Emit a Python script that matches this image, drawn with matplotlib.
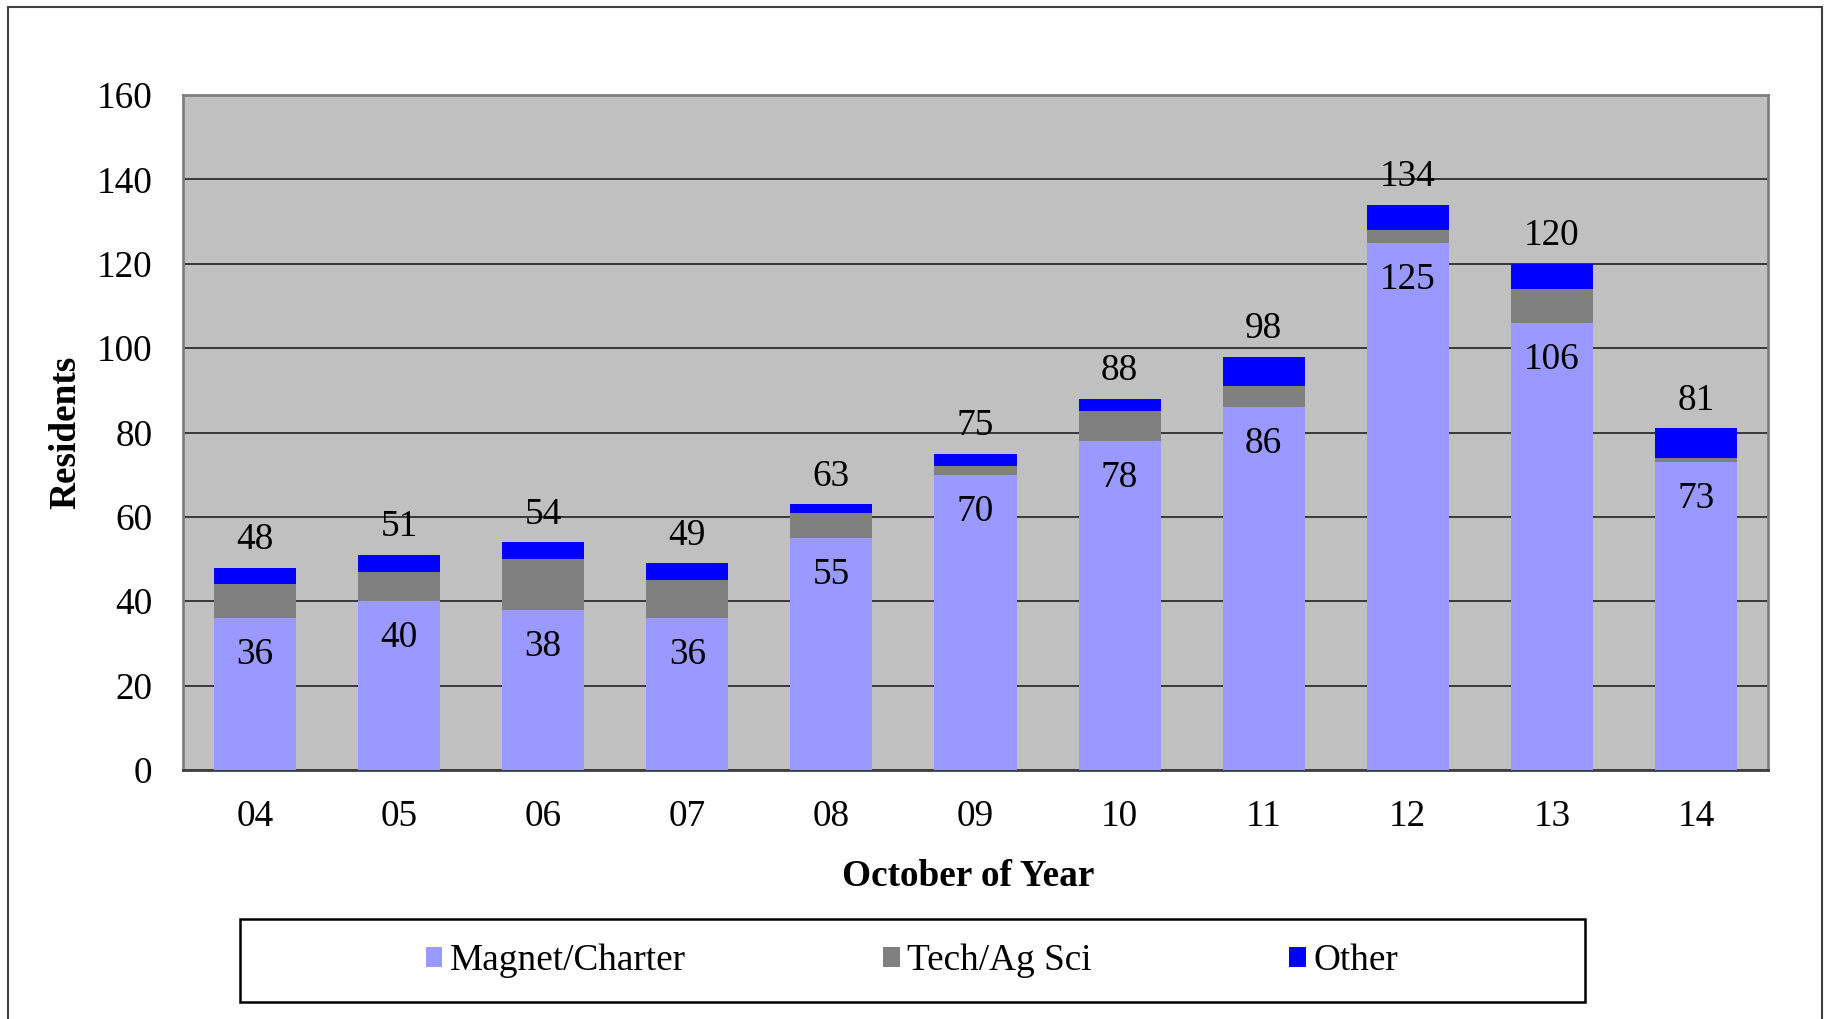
import matplotlib
matplotlib.use("Agg")
import matplotlib.pyplot as plt
from matplotlib.patches import Rectangle, Patch
import numpy as np

years = ["04", "05", "06", "07", "08", "09", "10", "11", "12", "13", "14"]
magnet = [36, 40, 38, 36, 55, 70, 78, 86, 125, 106, 73]
tech = [8, 7, 12, 9, 6, 2, 7, 5, 3, 8, 1]
other = [4, 4, 4, 4, 2, 3, 3, 7, 6, 6, 7]
totals = [48, 51, 54, 49, 63, 75, 88, 98, 134, 120, 81]
series_names = ["Magnet/Charter", "Tech/Ag Sci", "Other"]
colors = ["#9999FF", "#808080", "#0000FF"]

plt.rcParams['font.family'] = ['Liberation Serif', 'DejaVu Serif']
FS = 26.8

W, H = 1831, 1019
fig = plt.figure(figsize=(W / 100, H / 100), dpi=100)
ax = fig.add_axes([183 / W, 1 - 770 / H, (1768 - 183) / W, (770 - 95) / H])
ax.set_facecolor("#C0C0C0")

x = np.arange(len(years))
bw = 0.57
m = np.array(magnet)
t = np.array(tech)
o = np.array(other)
ax.bar(x, m, bw, color=colors[0], zorder=3)
ax.bar(x, t, bw, bottom=m, color=colors[1], zorder=3)
ax.bar(x, o, bw, bottom=m + t, color=colors[2], zorder=3)

for i in range(len(years)):
    ax.annotate(str(magnet[i]), (x[i], magnet[i]), xytext=(0, -26.5), textcoords="offset points",
                ha="center", va="center", fontsize=FS, zorder=5)
    ax.annotate(str(totals[i]), (x[i], totals[i]), xytext=(0, 20), textcoords="offset points",
                ha="center", va="center", fontsize=FS, zorder=5)

ax.set_xlim(-0.5, len(years) - 0.5)
ax.set_ylim(0, 160)
ax.set_yticks(range(0, 161, 20))
ax.set_xticks(x)
ax.set_xticklabels(years)
ax.tick_params(axis="both", labelsize=FS, length=0)
ax.tick_params(axis="x", pad=21)
ax.tick_params(axis="y", pad=22)
ax.yaxis.grid(True, color="#222222", linewidth=1.2, zorder=1)
ax.set_axisbelow(True)
for s in ax.spines.values():
    s.set_color("#808080")
    s.set_linewidth(2)
ax.spines["bottom"].set_color("#404040")

fig.text(66 / W, 0.5 * ((1 - 770 / H) + (1 - 95 / H)), "Residents", fontsize=FS, fontweight="bold",
         rotation=90, ha="center", va="center")
fig.text(968 / W, 1 - 876 / H, "October of Year", fontsize=FS, fontweight="bold", ha="center", va="center")

# legend box
fig.patches.append(Rectangle((240 / W, 1 - 1002 / H), (1585 - 240) / W, (1002 - 919) / H,
                             transform=fig.transFigure, fill=False, edgecolor="black", linewidth=1.8))
handles = [Patch(facecolor=c, edgecolor="none") for c in colors]
fig.legend(handles, series_names, loc="center", bbox_to_anchor=(912 / W, 1 - 961 / H), ncol=3,
           frameon=False, fontsize=FS, handlelength=0.45, handleheight=0.45, handletextpad=0.2,
           columnspacing=5.3)

# outer frame
fig.patches.append(Rectangle((8 / W, -0.01), (1822 - 8) / W, 1 - 7 / H + 0.01,
                             transform=fig.transFigure, fill=False, edgecolor="#404040", linewidth=1.5))

fig.savefig("out.png", dpi=100)
